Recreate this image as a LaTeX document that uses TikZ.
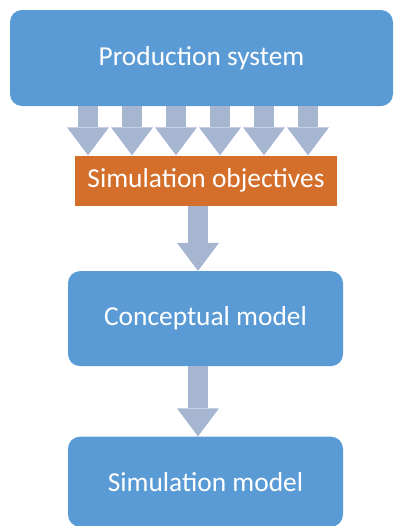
\documentclass[tikz,border=0pt]{standalone}
\usepackage{fontspec}
\setmainfont{Carlito}
\usetikzlibrary{positioning,arrows.meta}

\definecolor{boxblue}{HTML}{5B9BD5}
\definecolor{objorange}{HTML}{D46F2B}
\definecolor{arrowgray}{HTML}{A6B6D1}

\begin{document}
\begin{tikzpicture}[node distance = 1.5cm]

\tikzstyle{block} = [rectangle, rounded corners=0.3cm, fill=boxblue, text=white, font=\fontsize{19.5}{23}\selectfont, minimum width=6.875cm, minimum height=2.375cm, text centered]
\tikzstyle{goal} = [rectangle, fill=objorange, text=white, font=\fontsize{19.5}{23}\selectfont, minimum width=6.55cm, minimum height=1.25cm, text centered]
\tikzstyle{fatarrow} = [line width=0.5cm, arrowgray, -{Triangle[width=1.05cm, length=0.7cm, line width=0pt]}]

\useasboundingbox (0,0) rectangle (9.875,-13.15);

%% -- boxes --
\node (prod) 		[block, minimum width=9.575cm, minimum height=2.4cm] at (5.0375,-1.45) {Production system};
\node (obj) 		[goal, below=1.225cm of prod, xshift=0.1125cm] {Simulation objectives};
\node (concept) 	[block, below=1.625cm of obj, xshift=-0.0125cm] {Conceptual model};
\node (simmodel) 	[block, below=1.75cm of concept, minimum height=2.25cm] {Simulation model};

%% -- arrows --
\foreach \x in {2.2,3.3,4.4,5.5,6.6,7.7}
  \draw [fatarrow] (\x,0 |- prod.south) -- (\x,0 |- obj.north);
\draw [fatarrow] (4.95,0 |- obj.south) -- (4.95,0 |- concept.north);
\draw [fatarrow] (4.95,0 |- concept.south) -- (4.95,0 |- simmodel.north);

\end{tikzpicture}
\end{document}
